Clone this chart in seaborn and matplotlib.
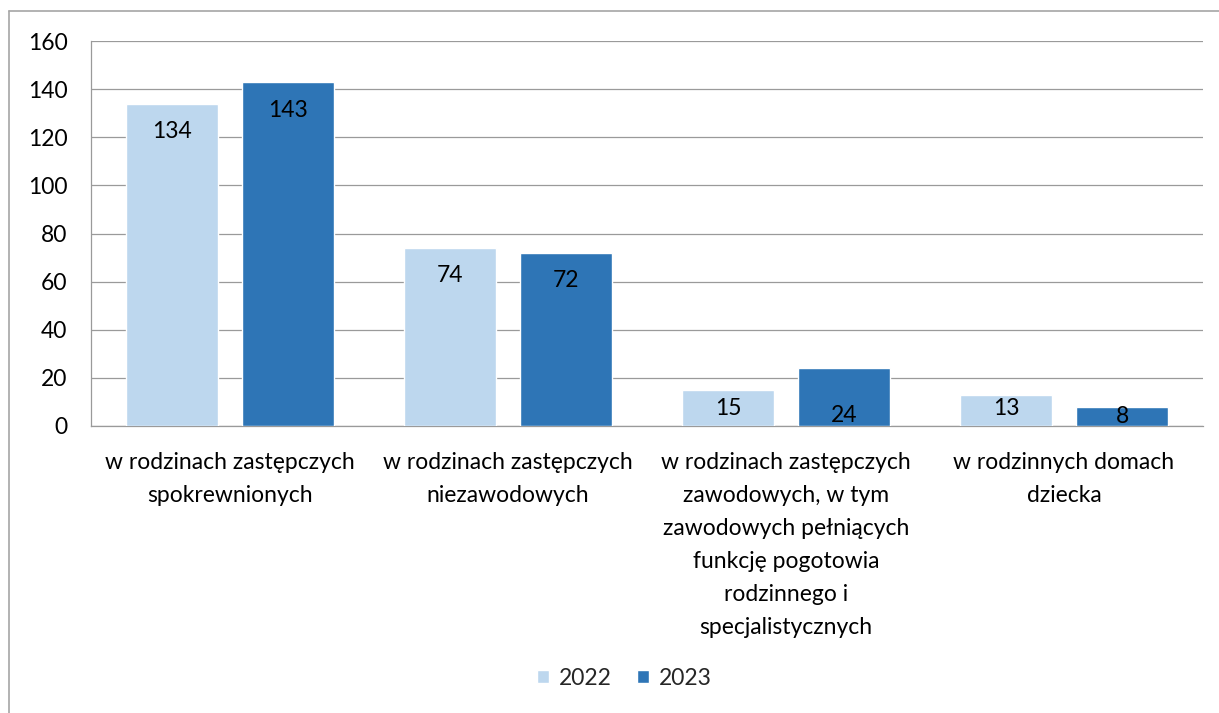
import numpy as np
import pandas as pd
import matplotlib.pyplot as plt
from matplotlib.lines import Line2D
import seaborn as sns

# data
categories = [
    "w rodzinach zastępczych\nspokrewnionych",
    "w rodzinach zastępczych\nniezawodowych",
    "w rodzinach zastępczych\nzawodowych, w tym\nzawodowych pełniących\nfunkcję pogotowia\nrodzinnego i\nspecjalistycznych",
    "w rodzinnych domach\ndziecka",
]
years = ["2022", "2023"]
values_2022 = [134, 74, 15, 13]
values_2023 = [143, 72, 24, 8]
colors = ["#BDD7EE", "#2E75B6"]

# how far below the bar top each value label sits (pixels), as in the reference
label_drop = {"2022": [28, 28, 19, 14], "2023": [29, 28, 47, 10]}

df = pd.DataFrame({
    "category": categories * 2,
    "year": [years[0]] * 4 + [years[1]] * 4,
    "value": values_2022 + values_2023,
})

sns.set_theme(style="white")
plt.rcParams["font.family"] = ["Lato", "DejaVu Sans"]
fs = 16.5

fig = plt.figure(figsize=(12.19, 7.13), dpi=100)
ax = fig.add_axes([91 / 1219, 1 - 426 / 713, (1203 - 91) / 1219, (426 - 41) / 713])

sns.barplot(data=df, x="category", y="value", hue="year", palette=colors,
            width=0.835, gap=0.215, edgecolor="white", linewidth=1,
            saturation=1, ax=ax, zorder=3)

ax.set_ylim(0, 160)
ax.set_yticks(range(0, 161, 20))
ax.set_xlim(-0.5, 3.5)
ax.grid(axis="y", color="#9A9A9A", linewidth=0.9, zorder=0)
ax.set_axisbelow(True)
for s in ["top", "right"]:
    ax.spines[s].set_visible(False)
for s in ["left", "bottom"]:
    ax.spines[s].set_color("#9A9A9A")
    ax.spines[s].set_linewidth(0.9)
ax.tick_params(axis="y", length=0, pad=17, labelsize=fs, labelcolor="black")
ax.tick_params(axis="x", length=0, pad=19, labelsize=fs, labelcolor="black")
for lab in ax.get_xticklabels():
    lab.set_linespacing(1.7)
ax.set_xlabel("")
ax.set_ylabel("")

# value labels
for cont, yr in zip(ax.containers, years):
    for bar, drop in zip(cont, label_drop[yr]):
        x = bar.get_x() + bar.get_width() / 2
        ax.annotate(f"{bar.get_height():.0f}", (x, bar.get_height()),
                    xytext=(0, -drop * 0.72), textcoords="offset points",
                    ha="center", va="center", fontsize=fs, color="black",
                    zorder=5)

ax.legend(loc="center", bbox_to_anchor=(0.512, 0.049),
          bbox_transform=fig.transFigure, ncol=2, frameon=False,
          fontsize=fs, handlelength=0.55, handleheight=0.55,
          handletextpad=0.4, columnspacing=1.1)

# outer chart frame (top and left edges visible)
fr = "#A6A6A6"
fig.add_artist(Line2D([9 / 1219, 1], [1 - 11 / 713, 1 - 11 / 713], color=fr, lw=1.2))
fig.add_artist(Line2D([9 / 1219, 9 / 1219], [0, 1 - 11 / 713], color=fr, lw=1.2))

fig.savefig("out.png", dpi=100)
